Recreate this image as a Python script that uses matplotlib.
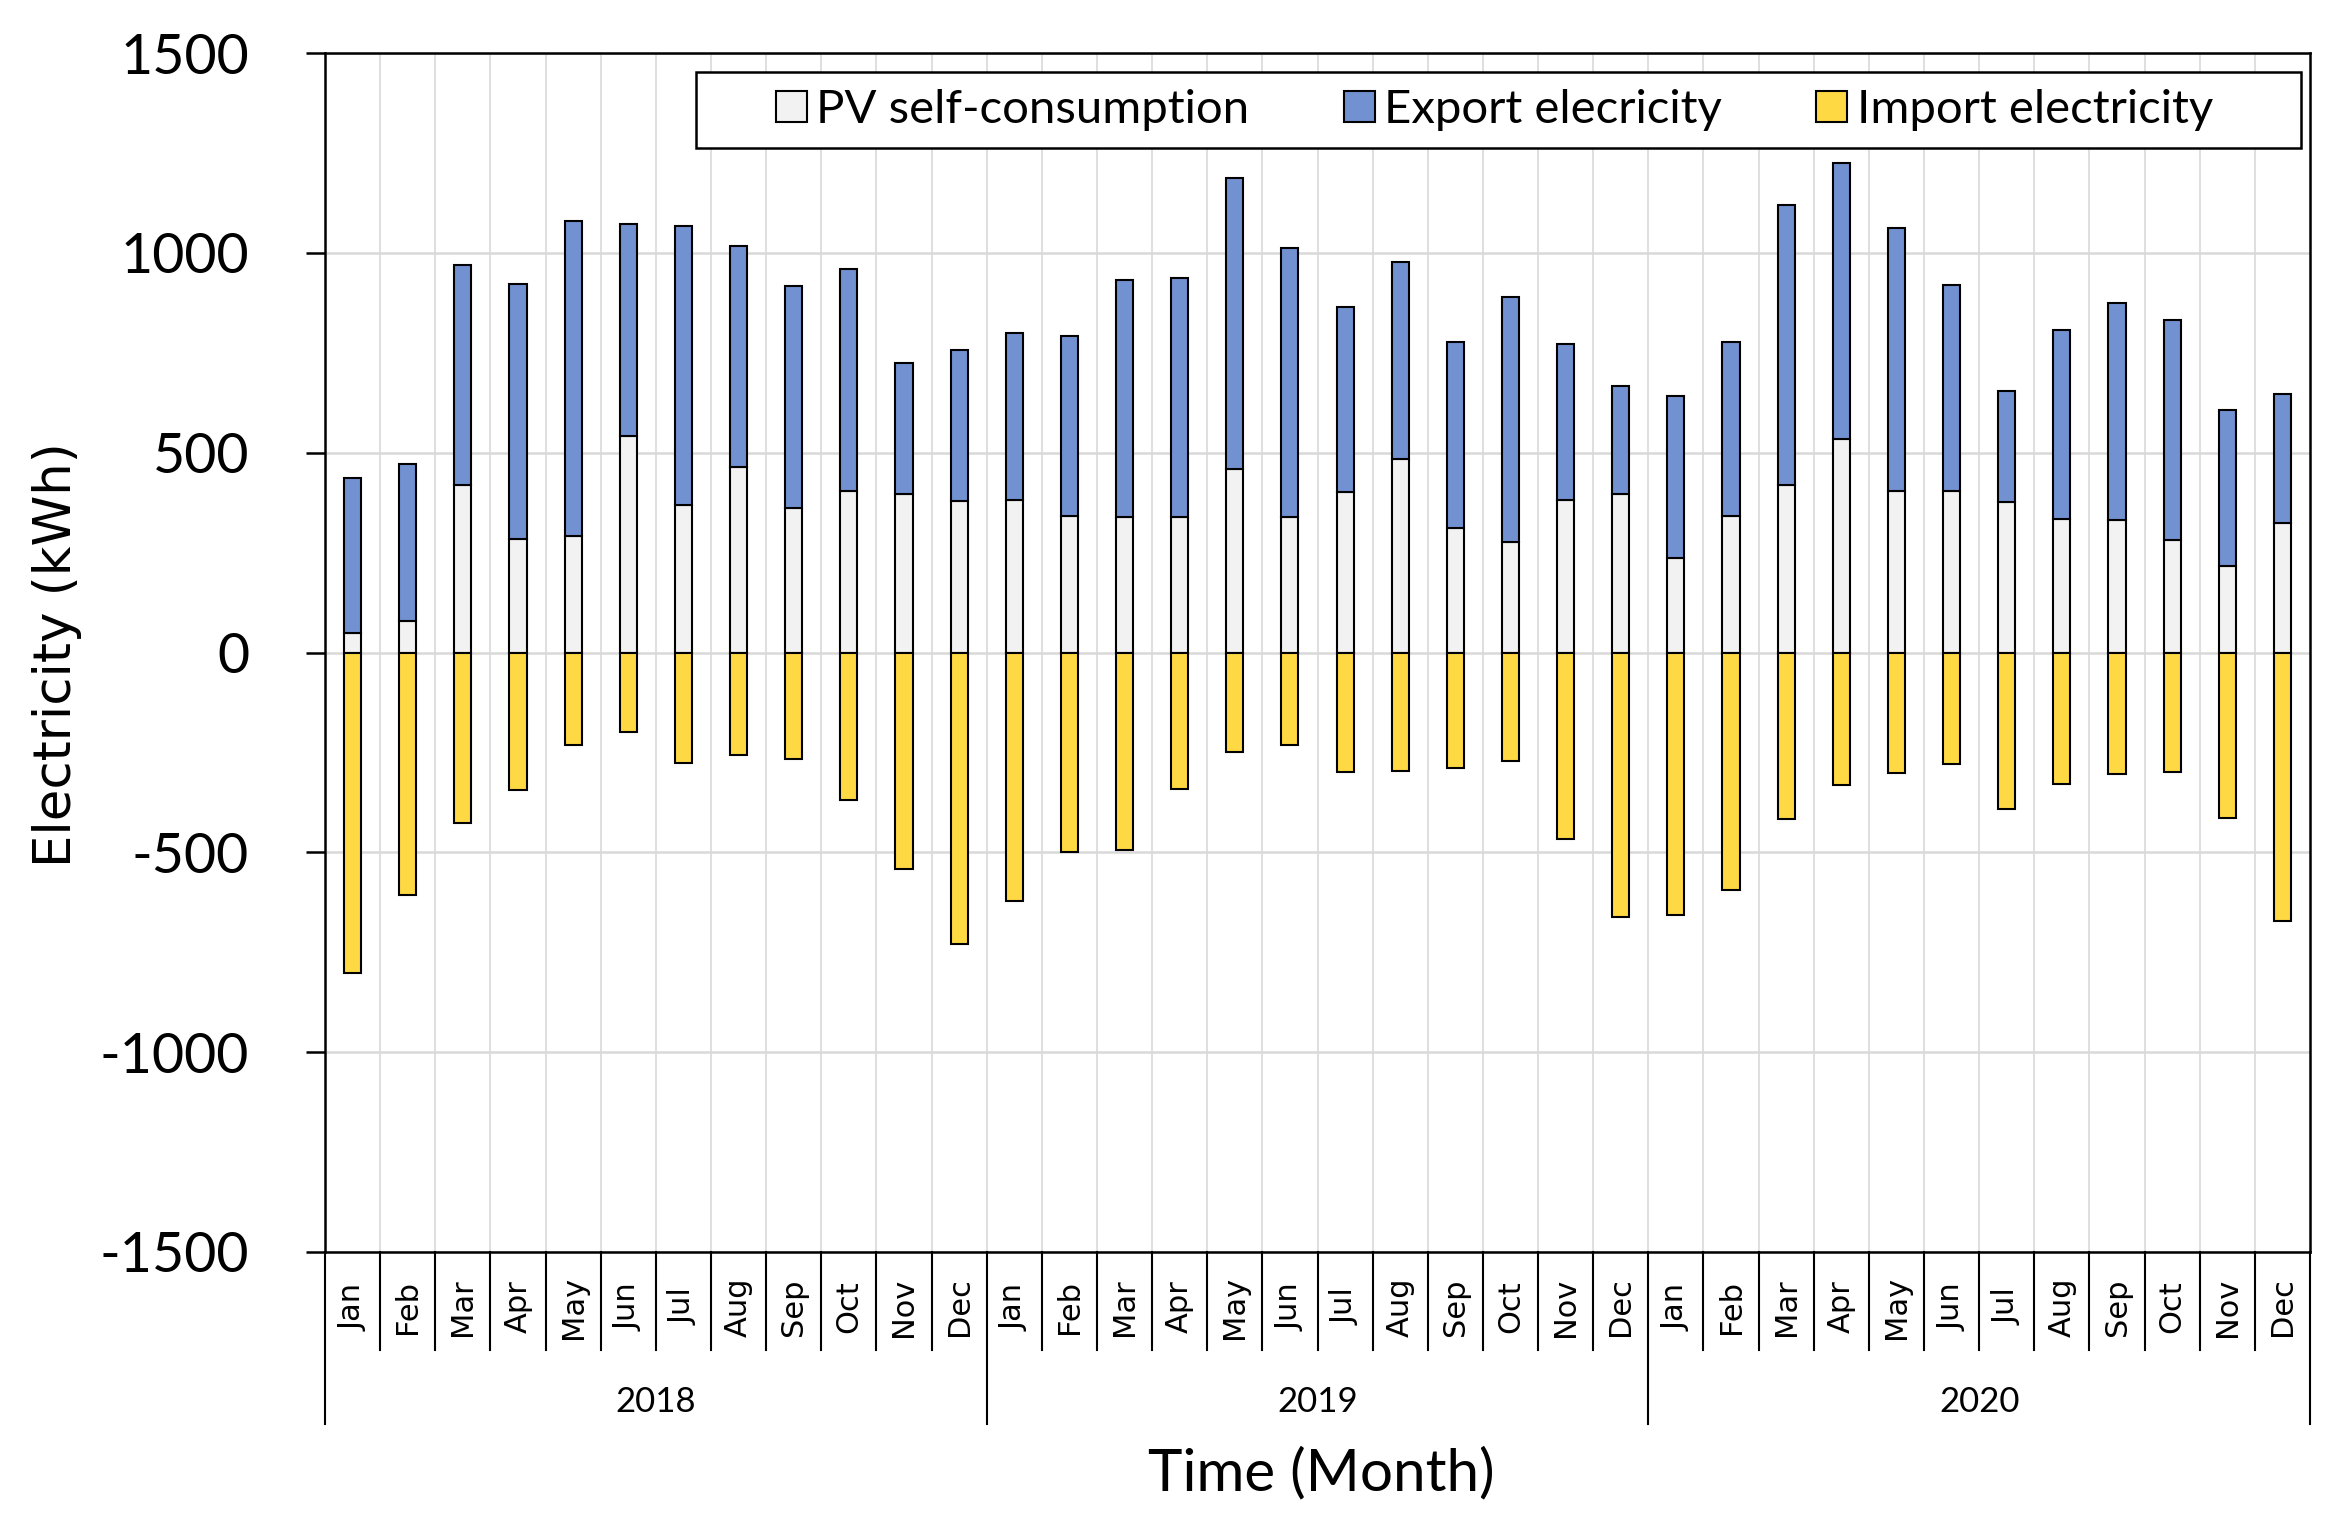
import matplotlib.pyplot as plt
import numpy as np
from matplotlib.patches import Rectangle

plt.rcParams['font.family'] = ['Lato', 'DejaVu Sans']
plt.rcParams['axes.unicode_minus'] = False

# 数据 (kWh)
years = ['2018', '2019', '2020']
months = ['Jan', 'Feb', 'Mar', 'Apr', 'May', 'Jun', 'Jul', 'Aug', 'Sep', 'Oct', 'Nov', 'Dec']

self_consumption = [50, 78, 420, 284, 292, 541, 370, 463, 362, 405, 396, 379,
                    381, 342, 338, 340, 459, 338, 401, 483, 312, 276, 381, 397,
                    236, 342, 420, 535, 405, 405, 377, 334, 331, 281, 217, 323]
export = [387, 394, 550, 637, 787, 531, 697, 554, 554, 554, 329, 377,
          418, 450, 593, 596, 728, 674, 463, 495, 466, 613, 390, 270,
          407, 436, 700, 691, 657, 515, 277, 472, 544, 552, 391, 324]
imports = [-801, -606, -427, -344, -232, -199, -277, -257, -266, -368, -542, -729,
           -623, -498, -494, -342, -249, -232, -299, -296, -288, -271, -466, -662,
           -656, -595, -416, -332, -302, -280, -391, -329, -304, -298, -413, -673]

W, H = 2349, 1536
fig = plt.figure(figsize=(W / 100, H / 100), dpi=100)
ax = fig.add_axes([325 / W, 1 - 1252 / H, (2310 - 325) / W, (1252 - 53) / H])

x = np.arange(len(self_consumption))
bw = 0.31
ec = 'black'
lw = 1.5
ax.bar(x, self_consumption, bw, color='#F2F2F2', edgecolor=ec, linewidth=lw,
       label='PV self-consumption', zorder=3)
ax.bar(x, export, bw, bottom=self_consumption, color='#7191D1', edgecolor=ec,
       linewidth=lw, label='Export elecricity', zorder=3)
ax.bar(x, imports, bw, color='#FFD944', edgecolor=ec, linewidth=lw,
       label='Import electricity', zorder=3)

ax.set_xlim(-0.5, len(x) - 0.5)
ax.set_ylim(-1500, 1500)
ax.set_yticks(np.arange(-1500, 1501, 500))
ax.tick_params(axis='y', labelsize=40, length=13.7, width=1.8, pad=41, direction='out')
ax.set_xticks([])
ax.set_xticks(np.arange(0.5, len(x) - 1, 1), minor=True)
ax.tick_params(axis='x', which='both', length=0, labelbottom=False)

ax.grid(axis='y', which='major', color='#D9D9D9', linewidth=1.8, zorder=0)
ax.grid(axis='x', which='minor', color='#D9D9D9', linewidth=1.2, zorder=0)
ax.set_axisbelow(True)
for s in ax.spines.values():
    s.set_linewidth(1.8)
    s.set_color('black')

# 月份与年份的分组坐标轴
tr = ax.get_xaxis_transform()
for i in range(len(x) + 1):
    xb = i - 0.5
    low = -0.1435 if i % 12 == 0 else -0.0817
    ax.plot([xb, xb], [0, low], color='black', lw=1.5, transform=tr, clip_on=False)
for i in range(len(x)):
    ax.text(i, -0.0459, months[i % 12], transform=tr, rotation=90, ha='center',
            va='center', fontsize=22, fontfamily='DejaVu Sans')
for j, yr in enumerate(years):
    ax.text(j * 12 + 5.5, -0.125, yr, transform=tr, ha='center', va='center', fontsize=25)

fig.text(0.5625, 1 - 1474 / H, 'Time (Month)', ha='center', va='center', fontsize=42)
fig.text(57 / W, 1 - 655 / H, 'Electricity (kWh)', rotation=90, ha='center', va='center',
         fontsize=37, fontfamily='DejaVu Sans')

# 图例外框
x0, x1 = (696 - 325) / 1985, (2301 - 325) / 1985
y0, y1 = 1 - (148 - 53) / 1199, 1 - (72 - 53) / 1199
ax.add_patch(Rectangle((x0, y0), x1 - x0, y1 - y0, transform=ax.transAxes,
                       facecolor='white', edgecolor='black', linewidth=1.8, zorder=4))
leg = ax.legend(loc='center', ncol=3, bbox_to_anchor=((x0 + x1) / 2 - 0.002, (y0 + y1) / 2),
                fontsize=34, frameon=False, handlelength=0.65, handleheight=0.65,
                handletextpad=0.2, columnspacing=2.0, borderpad=0.2, borderaxespad=0)
leg.set_zorder(5)

fig.savefig('out.png', dpi=100)
